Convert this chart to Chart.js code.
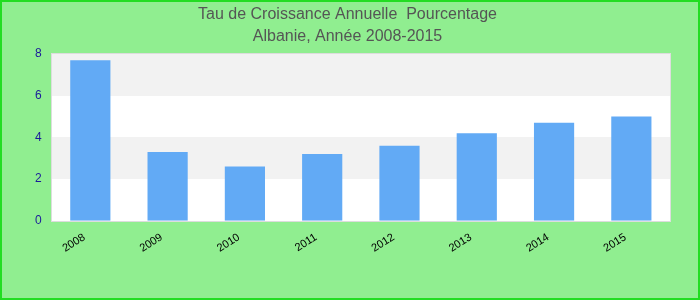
<!DOCTYPE html>
<html><head><meta charset="utf-8">
<script src="https://cdn.jsdelivr.net/npm/chart.js@4/dist/chart.umd.min.js"></script>
<style>html,body{margin:0;padding:0;background:#90EE90;}canvas{display:block;}</style>
</head><body>
<canvas id="c" width="700" height="300"></canvas>
<script>
const categories = ['2008','2009','2010','2011','2012','2013','2014','2015'];
const growth = [7.7, 3.3, 2.6, 3.2, 3.6, 4.2, 4.7, 5.0];
const yTicks = [0, 2, 4, 6, 8];
const titleLines = ['Tau de Croissance Annuelle  Pourcentage', 'Albanie, Année 2008-2015'];

const bgPlugin = {
  id: 'bg',
  beforeDraw(chart) {
    const ctx = chart.ctx, a = chart.chartArea, y = chart.scales.y;
    ctx.save();
    ctx.fillStyle = '#90EE90';
    ctx.fillRect(0, 0, chart.width, chart.height);
    ctx.strokeStyle = '#22dd22';
    ctx.lineWidth = 2;
    ctx.strokeRect(1, 1, chart.width - 2, chart.height - 2);
    for (let i = 0; i < yTicks.length - 1; i++) {
      const top = Math.round(y.getPixelForValue(yTicks[i + 1]));
      const bot = Math.round(y.getPixelForValue(yTicks[i]));
      ctx.fillStyle = (i % 2 === 0) ? '#ffffff' : '#f2f2f2';
      ctx.fillRect(a.left, top, a.right - a.left, bot - top);
    }
    ctx.strokeStyle = '#dddddd';
    ctx.lineWidth = 1;
    ctx.strokeRect(Math.round(a.left) - 0.5, Math.round(a.top) - 0.5,
      Math.round(a.right - a.left) + 1, Math.round(a.bottom - a.top) + 1);
    ctx.restore();
  }
};

new Chart(document.getElementById('c'), {
  type: 'bar',
  data: {
    labels: categories,
    datasets: [{ data: growth, backgroundColor: '#62AAF5', borderWidth: 0,
      barPercentage: 0.52, categoryPercentage: 1.0 }]
  },
  options: {
    responsive: false,
    animation: false,
    layout: { padding: { left: 25, right: 30, top: 0, bottom: 35 } },
    plugins: {
      legend: { display: false },
      tooltip: { enabled: false },
      title: {
        display: true, text: titleLines, color: '#555555',
        font: { family: 'Liberation Sans, Arial', size: 16, weight: 'normal', lineHeight: 1.375 },
        padding: { top: 4, bottom: 6 }
      }
    },
    scales: {
      x: {
        grid: { display: false, drawTicks: false },
        border: { display: false },
        ticks: { color: '#000000', font: { family: 'Liberation Sans, Arial', size: 11 },
          minRotation: 32, maxRotation: 32, padding: 10, labelOffset: -6, autoSkip: false }
      },
      y: {
        min: 0, max: 8,
        afterBuildTicks(s) { s.ticks = yTicks.map(v => ({ value: v })); },
        grid: { display: false, drawTicks: false },
        border: { display: false },
        ticks: { color: '#1a1a9a', font: { family: 'Liberation Sans, Arial', size: 12 }, padding: 10 }
      }
    }
  },
  plugins: [bgPlugin]
});
</script>
</body></html>
